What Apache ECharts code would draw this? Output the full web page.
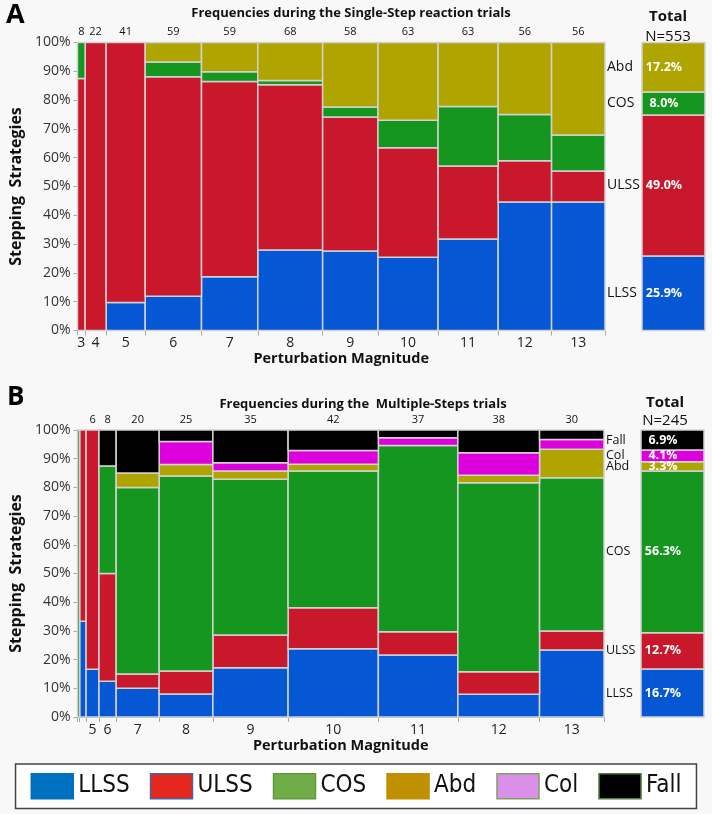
<!DOCTYPE html>
<html><head><meta charset="utf-8">
<script src="https://cdn.jsdelivr.net/npm/echarts@6/dist/echarts.min.js"></script>
<style>html,body{margin:0;padding:0;background:#f8f8f8}#c{width:712px;height:814px}</style>
</head><body><div id="c"></div>
<script>
// ---------- Panel A: Single-Step reaction trials ----------
const categoriesA = ['LLSS', 'ULSS', 'COS', 'Abd'];
const magnitudesA = ['3', '4', '5', '6', '7', '8', '9', '10', '11', '12', '13'];
const trialsA = [8, 22, 41, 59, 59, 68, 58, 63, 63, 56, 56];
const llssA = [0, 0, 4, 7, 11, 19, 16, 16, 20, 25, 25];
const ulssA = [7, 22, 37, 45, 40, 39, 27, 24, 16, 8, 6];
const cosA = [1, 0, 0, 3, 2, 1, 2, 6, 13, 9, 7];
const abdA = [0, 0, 0, 4, 6, 9, 13, 17, 14, 14, 18];

// ---------- Panel B: Multiple-Steps trials ----------
const categoriesB = ['LLSS', 'ULSS', 'COS', 'Abd', 'Col', 'Fall'];
const magnitudesB = ['', '', '5', '6', '7', '8', '9', '10', '11', '12', '13'];
const trialsB = [1, 3, 6, 8, 20, 25, 35, 42, 37, 38, 30];
const countLabelsB = ['', '', '6', '8', '20', '25', '35', '42', '37', '38', '30'];
const llssB = [0, 1, 1, 1, 2, 2, 6, 10, 8, 3, 7];
const ulssB = [0, 2, 5, 3, 1, 2, 4, 6, 3, 3, 2];
const cosB = [1, 0, 0, 3, 13, 17, 19, 20, 24, 25, 16];
const abdB = [0, 0, 0, 0, 1, 1, 1, 1, 0, 1, 3];
const colB = [0, 0, 0, 0, 0, 2, 1, 2, 1, 3, 1];
const fallB = [0, 0, 0, 1, 3, 1, 4, 3, 1, 3, 1];

// ---------- styles ----------
const cellColors = { LLSS: '#0557d4', ULSS: '#c9172b', COS: '#14961f', Abd: '#b0a500', Col: '#dd00dd', Fall: '#000000' };
const legendColors = { LLSS: '#0070c0', ULSS: '#e5281e', COS: '#70ad47', Abd: '#bf9000', Col: '#da8fe8', Fall: '#000000' };
const legendBorders = { LLSS: '#0070c0', ULSS: '#4466b0', COS: '#5f9a3c', Abd: '#bf9000', Col: '#7f9f66', Fall: '#4c7a3c' };
const FONT = "'Open Sans', 'Noto Sans', sans-serif";
const NARROW = "'Liberation Sans Narrow', 'DejaVu Sans Condensed', 'Open Sans', sans-serif";
const STROKE = '#d2d2d2';

function sum(a) { return a.reduce((s, v) => s + v, 0); }
function nearestLabel(values, labels, v) {
  let best = 0, bd = Infinity;
  values.forEach((x, i) => { const d = Math.abs(x - v); if (d < bd) { bd = d; best = i; } });
  return labels[best];
}

function buildPanel(cfg) {
  const { cats, counts, n, axisLabels, countLabels, xi, yi, txi, tyi } = cfg;
  const total = sum(n);
  const starts = []; let acc = 0;
  n.forEach(v => { starts.push(acc); acc += v; });
  const boundaries = [0].concat(starts.map((s, i) => s + n[i]));
  const centers = starts.map((s, i) => s + n[i] / 2);
  const labelIdx = axisLabels.map((l, i) => i).filter(i => axisLabels[i] !== '');
  const countIdx = countLabels.map((l, i) => i).filter(i => countLabels[i] !== '');

  const series = [];
  const cellData = {}; cats.forEach(c => cellData[c] = []);
  n.forEach((tot, j) => {
    let y = 0;
    cats.forEach(c => {
      const v = counts[c][j];
      if (v > 0) {
        const h = v / tot * 100;
        cellData[c].push([starts[j], starts[j] + tot, y, y + h]);
        y += h;
      }
    });
  });
  cats.forEach(c => {
    series.push({
      type: 'custom', name: c, xAxisIndex: xi, yAxisIndex: yi, data: cellData[c],
      itemStyle: { color: cellColors[c] },
      encode: { x: [0, 1], y: [2, 3] },
      renderItem: (params, api) => {
        const p0 = api.coord([api.value(0), api.value(3)]);
        const p1 = api.coord([api.value(1), api.value(2)]);
        return { type: 'rect', shape: { x: p0[0], y: p0[1], width: p1[0] - p0[0], height: p1[1] - p0[1] },
          style: { fill: cellColors[c], stroke: STROKE, lineWidth: 1.5 } };
      }
    });
  });

  // totals column
  const mids = [], bounds = [0];
  let ty = 0;
  cats.forEach(c => {
    const cnt = sum(counts[c]);
    const pct = cnt / total * 100;
    const txt = pct.toFixed(1) + '%';
    mids.push(ty + pct / 2);
    series.push({
      type: 'custom', name: c, xAxisIndex: txi, yAxisIndex: tyi,
      data: [[0, 1, ty, ty + pct]],
      itemStyle: { color: cellColors[c] },
      renderItem: (params, api) => {
        const p0 = api.coord([api.value(0), api.value(3)]);
        const p1 = api.coord([api.value(1), api.value(2)]);
        return { type: 'group', children: [
          { type: 'rect', shape: { x: p0[0], y: p0[1], width: p1[0] - p0[0], height: p1[1] - p0[1] },
            style: { fill: cellColors[c], stroke: STROKE, lineWidth: 1.5 } },
          { type: 'text', z2: 10, style: { text: txt, x: p0[0] + 22, y: (p0[1] + p1[1]) / 2,
            fill: '#ffffff', fontSize: 12.5, fontWeight: 'bold', fontFamily: FONT, align: 'center', verticalAlign: 'middle' } }
        ] };
      }
    });
    ty += pct;
    bounds.push(ty);
  });

  const xAxes = [
    { gridIndex: cfg.gi, type: 'value', min: 0, max: total, position: 'bottom',
      name: 'Perturbation Magnitude', nameLocation: 'middle', nameGap: 20,
      nameTextStyle: { fontSize: 14.5, fontWeight: 'bold', fontFamily: FONT, color: '#111' },
      axisLine: { show: true, lineStyle: { color: '#a8a8a8', width: 1 } },
      axisTick: { show: true, customValues: boundaries, length: 5, lineStyle: { color: '#a8a8a8' } },
      axisLabel: { customValues: labelIdx.map(i => centers[i]), margin: 6, fontSize: 14, color: '#222', fontFamily: FONT,
        formatter: v => nearestLabel(labelIdx.map(i => centers[i]), labelIdx.map(i => axisLabels[i]), v) },
      splitLine: { show: false } },
    { gridIndex: cfg.gi, type: 'value', min: 0, max: total, position: 'top',
      axisLine: { show: false }, axisTick: { show: false },
      axisLabel: { customValues: countIdx.map(i => centers[i]), margin: 5, fontSize: 11, color: '#111', fontFamily: FONT,
        formatter: v => nearestLabel(countIdx.map(i => centers[i]), countIdx.map(i => countLabels[i]), v) },
      splitLine: { show: false } },
    { gridIndex: cfg.gi + 1, type: 'value', min: 0, max: 1, show: false }
  ];
  const yAxes = [
    { gridIndex: cfg.gi, type: 'value', min: 0, max: 100, interval: 10, position: 'left',
      name: 'Stepping  Strategies', nameLocation: 'middle', nameGap: 45,
      nameTextStyle: { fontSize: 16, fontWeight: 'bold', fontFamily: FONT, color: '#111' },
      axisLine: { show: true, lineStyle: { color: '#a8a8a8' } },
      axisTick: { show: true, length: 4, lineStyle: { color: '#a8a8a8' } },
      axisLabel: { formatter: '{value}%', fontSize: 14, color: '#333', fontFamily: FONT, margin: 7 },
      splitLine: { show: false } },
    { gridIndex: cfg.gi, type: 'value', min: 0, max: 100, position: 'right',
      axisLine: { show: false },
      axisTick: { show: true, customValues: bounds, length: 4, lineStyle: { color: '#a8a8a8' } },
      axisLabel: { customValues: mids, margin: 2, fontSize: cfg.rightFont, color: '#111', fontFamily: FONT,
        formatter: v => nearestLabel(mids, cats, v) },
      splitLine: { show: false } },
    { gridIndex: cfg.gi + 1, type: 'value', min: 0, max: 100, show: false }
  ];
  return { series, xAxes, yAxes };
}

const panelA = buildPanel({
  cats: categoriesA, counts: { LLSS: llssA, ULSS: ulssA, COS: cosA, Abd: abdA },
  n: trialsA, axisLabels: magnitudesA, countLabels: trialsA.map(String),
  gi: 0, xi: 0, yi: 0, txi: 2, tyi: 2, rightFont: 14
});
const panelB = buildPanel({
  cats: categoriesB, counts: { LLSS: llssB, ULSS: ulssB, COS: cosB, Abd: abdB, Col: colB, Fall: fallB },
  n: trialsB, axisLabels: magnitudesB, countLabels: countLabelsB,
  gi: 2, xi: 3, yi: 3, txi: 5, tyi: 5, rightFont: 12.5
});

const chart = echarts.init(document.getElementById('c'), null, { renderer: 'canvas' });
chart.setOption({
  animation: false,
  backgroundColor: '#f8f8f8',
  title: [
    { text: 'Frequencies during the Single-Step reaction trials', left: 346, top: 2, textAlign: 'center',
      textStyle: { fontSize: 13, fontWeight: 'bold', fontFamily: FONT, color: '#111' } },
    { text: 'Total', subtext: 'N=553', left: 663, top: 4, textAlign: 'center', itemGap: 5,
      textStyle: { fontSize: 15, fontWeight: 'bold', fontFamily: FONT, color: '#111' },
      subtextStyle: { fontSize: 15, fontFamily: FONT, color: '#111' } },
    { text: 'Frequencies during the  Multiple-Steps trials', left: 358, top: 393, textAlign: 'center',
      textStyle: { fontSize: 13, fontWeight: 'bold', fontFamily: FONT, color: '#111' } },
    { text: 'Total', subtext: 'N=245', left: 660, top: 390, textAlign: 'center', itemGap: 3,
      textStyle: { fontSize: 15, fontWeight: 'bold', fontFamily: FONT, color: '#111' },
      subtextStyle: { fontSize: 15, fontFamily: FONT, color: '#111' } }
  ],
  graphic: [
    { type: 'text', left: 6, top: 2, style: { text: 'A', fontSize: 27, fontWeight: 'bold', fontFamily: FONT, fill: '#000' } },
    { type: 'text', left: 7, top: 385, style: { text: 'B', fontSize: 26, fontWeight: 'bold', fontFamily: FONT, fill: '#000' } }
  ],
  legend: {
    data: categoriesB.map(c => ({ name: c, itemStyle: { color: legendColors[c], borderColor: legendBorders[c], borderWidth: 1.5 } })),
    left: 'center', top: 764, orient: 'horizontal', icon: 'rect',
    itemWidth: 42, itemHeight: 25, itemGap: 20, padding: [9, 15],
    borderColor: '#444', borderWidth: 1.5, backgroundColor: '#ffffff', selectedMode: false,
    textStyle: { fontSize: 24, fontFamily: NARROW, color: '#111' }
  },
  grid: [
    { left: 60, top: 42.5, width: 545, height: 288 },
    { left: 642, top: 42.5, width: 63, height: 288 },
    { left: 61, top: 430, width: 543, height: 287 },
    { left: 641, top: 430, width: 63, height: 287 }
  ],
  xAxis: panelA.xAxes.concat(panelB.xAxes),
  yAxis: panelA.yAxes.concat(panelB.yAxes),
  series: panelA.series.concat(panelB.series)
});
</script></body></html>
